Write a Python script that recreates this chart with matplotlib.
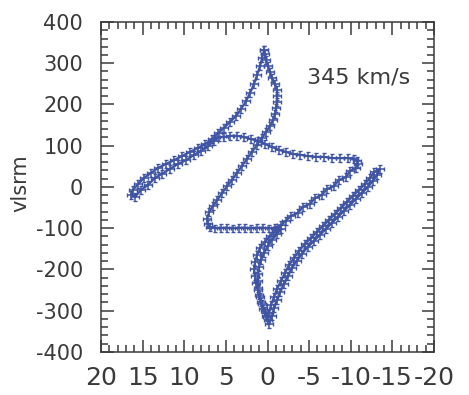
import matplotlib
matplotlib.use("Agg")
import matplotlib.pyplot as plt  # noqa: E402
from matplotlib.ticker import MultipleLocator  # noqa: E402

BLUE, INK = "#3f54a3", "#3a3a3a"
plt.rcParams["axes.unicode_minus"] = False

# offset (x) and vlsrm (km/s), walked round the loop
arm_out_x = [0.42, 0.66, 0.90, 1.26, 1.62, 2.10, 2.58, 3.18, 3.78, 4.50, 5.22, 5.94, 6.66,
             7.50, 8.34, 9.30, 10.26, 11.22, 12.18, 13.15, 13.99, 14.83, 15.55, 16.15, 16.39]
arm_out_y = [332, 313, 293, 271, 250, 228, 208, 189, 172, 158, 143, 131, 116,
             104, 95, 85, 75, 65, 56, 46, 34, 22, 7, -7, -19]
arm_back_x = [15.91, 15.19, 14.35, 13.51, 12.67, 11.70, 10.74, 9.78, 8.82, 7.98, 7.14, 6.42, 5.82]
arm_back_y = [-24, -7, 5, 22, 32, 44, 56, 65, 78, 87, 99, 112, 121]
top_run_x = [5.22, 4.50, 3.66, 2.82, 1.98, 1.14, 0.30, -0.54, -1.38, -2.22, -3.06, -3.90, -4.86,
             -5.82, -6.78, -7.74, -8.70, -9.66, -10.38, -10.74, -10.86]
top_run_y = [121, 124, 124, 121, 116, 112, 104, 97, 90, 85, 80, 78, 75,
             73, 73, 70, 70, 70, 68, 63, 56]
band_a_x = [-10.62, -9.90, -9.42, -8.58, -7.98, -7.14, -6.54, -5.70, -5.10, -4.26, -3.66, -2.82,
            -2.22, -1.62, -1.02]
band_a_y = [46, 39, 24, 17, 2, -5, -19, -27, -41, -48, -63, -70, -82, -92, -104]
low_down_x = [-0.30, 0.30, 0.90, 1.26, 1.50, 1.62, 1.50, 1.38, 1.14, 0.90, 0.66, 0.30, 0.06, -0.18]
low_down_y = [-119, -133, -148, -165, -182, -199, -216, -233, -250, -267, -284, -301, -315, -332]
band_b_x = [-0.54, -0.78, -1.14, -1.50, -1.98, -2.46, -2.94, -3.54, -4.14, -4.86, -5.58, -6.30,
            -7.02, -7.74, -8.46, -9.18, -9.90, -10.62, -11.34, -12.06, -12.66, -13.14, -13.51]
band_b_y = [-313, -293, -274, -255, -235, -216, -196, -179, -162, -145, -131, -116,
            -102, -87, -73, -58, -44, -29, -15, 0, 15, 29, 44]
band_b_back_x = [-12.79, -12.30, -11.70, -10.98, -10.26, -9.54, -8.82, -8.10, -7.38, -6.66, -5.94,
                 -5.22, -4.50, -3.78, -3.18, -2.58, -2.10, -1.62, -1.14, -0.78, -0.42, -0.18, -0.06]
band_b_back_y = [36, 22, 7, -7, -22, -36, -51, -65, -80, -95, -109,
                 -124, -138, -155, -172, -189, -208, -228, -247, -267, -286, -305, -322]
low_up_x = [0.18, 0.54, 0.78, 1.02, 1.14, 1.14, 1.14, 1.02, 0.78, 0.42, -0.06, -0.54, -1.14, -1.62]
low_up_y = [-313, -296, -279, -262, -245, -228, -211, -194, -177, -160, -143, -128, -114, -102]
bottom_run_x = [-0.90, -0.18, 0.54, 1.26, 1.98, 2.70, 3.42, 4.14, 4.86, 5.58, 6.30, 6.90, 7.14, 7.26]
bottom_run_y = [-99, -100, -99, -99, -100, -99, -99, -100, -99, -99, -100, -97, -90, -78]
rise_x = [7.02, 6.54, 6.06, 5.46, 4.86, 4.26, 3.66, 3.06, 2.46, 1.86, 1.26, 0.66, 0.18, -0.30,
          -0.66, -0.90, -1.02, -1.14, -1.14, -1.14, -0.90, -0.54, -0.30, -0.06, 0.18, 0.30, 0.42]
rise_y = [-61, -46, -32, -15, 2, 17, 34, 51, 68, 85, 102, 119, 133, 148,
          162, 177, 191, 206, 221, 235, 250, 264, 279, 293, 308, 322, 332]
x_err, y_err = 0.45, 9

xs = (arm_out_x + arm_back_x + top_run_x + band_a_x + low_down_x + band_b_x
      + band_b_back_x + low_up_x + bottom_run_x + rise_x)
ys = (arm_out_y + arm_back_y + top_run_y + band_a_y + low_down_y + band_b_y
      + band_b_back_y + low_up_y + bottom_run_y + rise_y)

fig = plt.figure(figsize=(4.69, 3.95), dpi=100)
ax = fig.add_axes([0.2154, 0.1089, 0.71, 0.8354])
ax.errorbar(xs, ys, xerr=x_err, yerr=y_err, fmt="-", color=BLUE, ecolor=BLUE,
            lw=1.6, elinewidth=1.1, capsize=1.2, capthick=1.0)

ax.set_xlim(20, -20)
ax.set_ylim(-400, 400)
ax.xaxis.set_major_locator(MultipleLocator(5)); ax.xaxis.set_minor_locator(MultipleLocator(1))
ax.yaxis.set_major_locator(MultipleLocator(100)); ax.yaxis.set_minor_locator(MultipleLocator(20))
ax.tick_params(which="both", direction="in", top=True, right=True, color=INK, width=1.1,
               labelcolor=INK)
ax.tick_params(which="major", length=9)
ax.tick_params(which="minor", length=5)
ax.tick_params(axis="x", labelsize=18, pad=10)
ax.tick_params(axis="y", labelsize=15, pad=13)
for s in ax.spines.values():
    s.set_color(INK); s.set_linewidth(1.1)

ax.set_ylabel("vlsrm", fontsize=15, color=INK)
ax.yaxis.set_label_coords(-0.213, 0.512)
ax.text(0.62, 0.815, "345 km/s", transform=ax.transAxes, fontsize=16, color=INK,
        ha="left", va="baseline")

fig.savefig("out.png", dpi=100)
